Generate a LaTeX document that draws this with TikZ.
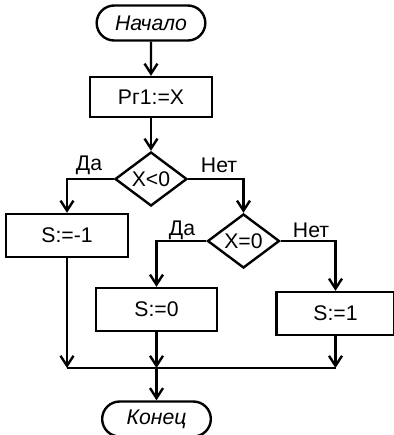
\documentclass[tikz,border=0pt]{standalone}
\usepackage{fontspec}
\setmainfont{Liberation Sans}
\usetikzlibrary{arrows.meta,shapes.geometric,shapes.misc}

\begin{document}
\begin{tikzpicture}[x=0.5pt,y=-0.5pt,line width=1.2pt,font=\fontsize{10.6}{12}\selectfont,
	term/.style={draw,rounded rectangle,minimum width=61pt,minimum height=17.5pt,font=\fontsize{10.6}{12}\selectfont\itshape},
	proc/.style={draw,rectangle,minimum height=21.5pt},
	cond/.style={draw,diamond,aspect=1.3,inner sep=0pt,minimum width=36pt,minimum height=27pt},
	arr/.style={-{Straight Barb[length=5pt,width=6.5pt]}}]
\useasboundingbox (0,0) rectangle (394,435);

\path (151,23) node[term] (start) {Начало};
\path (151,97) node[proc,minimum width=61pt,minimum height=20pt] (reg) {Рг1:=X};
\path (151,179) node[cond] (c1) {X<0};
\path (67,235.5) node[proc,minimum width=61pt] (neg) {S:=-1};
\path (243.5,241) node[cond] (c2) {X=0};
\path (156.5,309.5) node[proc,minimum width=60.5pt] (zero) {S:=0};
\path (335.5,313.5) node[proc,minimum width=59pt] (pos) {S:=1};
\path (156.5,419) node[term] (stop) {Конец};

\path (89,165) node[draw=none] (yes1) {Да};
\path (219,165) node[draw=none] (no1) {Нет};
\path (182,230) node[draw=none] (yes2) {Да};
\path (311,230) node[draw=none] (no2) {Нет};

\coordinate (merge) at (0,368);

\draw [arr] (start) -- (reg);
\draw [arr] (reg) -- (c1);
\draw [arr] (c1.west) -| (neg.north);
\draw [arr] (c1.east) -| (c2.north);
\draw [arr] (c2.west) -| (zero.north);
\draw [arr] (c2.east) -| (pos.north);

\draw [arr] (neg.south) -- (neg.south |- merge);
\draw [arr] (zero.south) -- (zero.south |- merge);
\draw [arr] (pos.south) -- (pos.south |- merge);
\draw (neg.south |- merge) -- (pos.south |- merge);
\draw [arr] (zero.south |- merge) -- (stop.north);

\end{tikzpicture}
\end{document}
